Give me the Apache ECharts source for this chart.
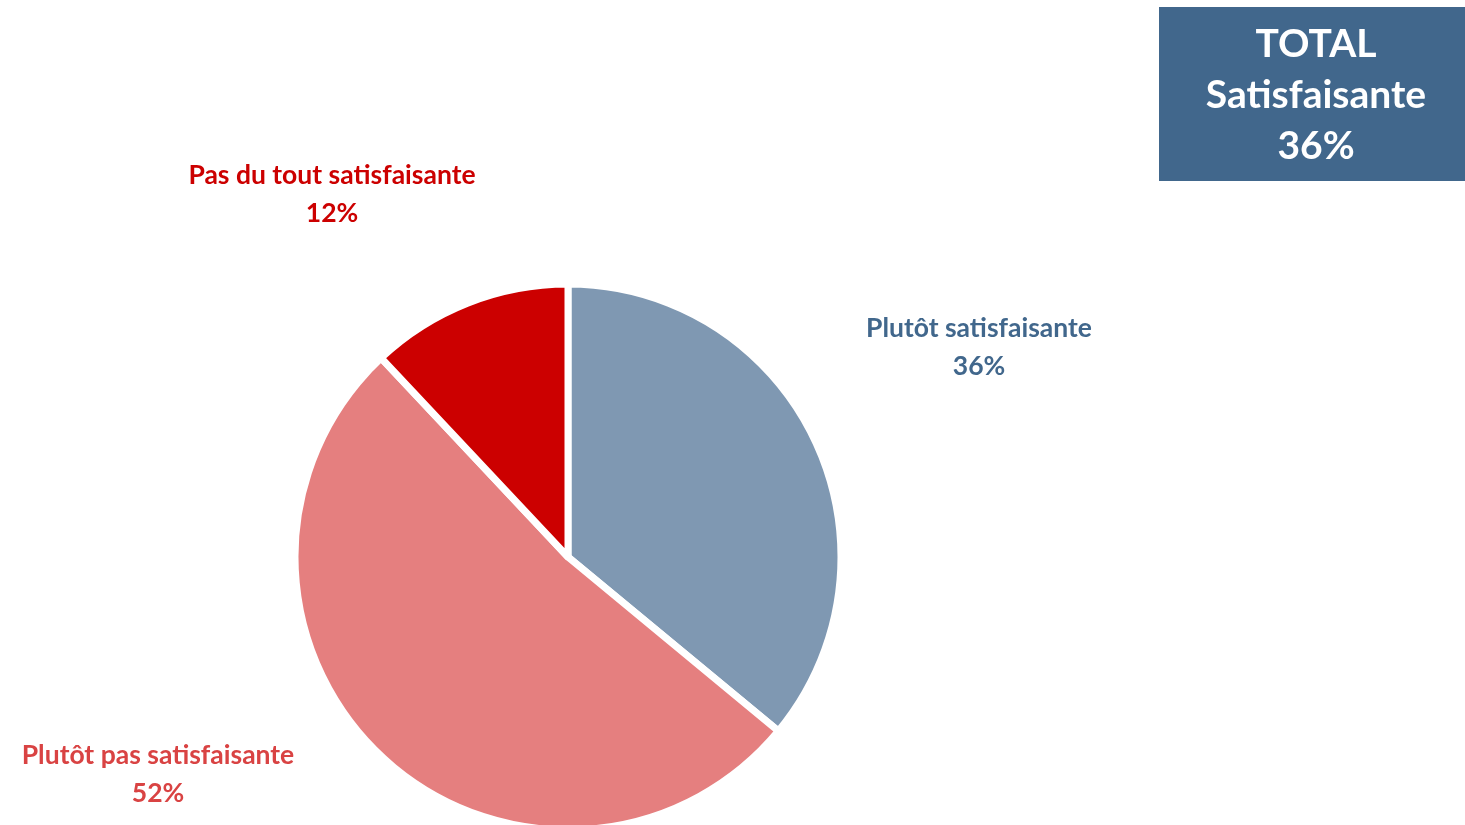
<!DOCTYPE html>
<html>
<head>
<meta charset="utf-8">
<title>Satisfaction</title>
<script src="https://cdn.jsdelivr.net/npm/echarts@6/dist/echarts.min.js"></script>
<style>
  html, body { margin: 0; padding: 0; background: #fff; }
  #chart { width: 1465px; height: 825px; }
</style>
</head>
<body>
<div id="chart"></div>
<script>
// données
const categories = ['Plutôt satisfaisante', 'Plutôt pas satisfaisante', 'Pas du tout satisfaisante']
const values = [36, 52, 12]
const sliceColors = ['#7f98b2', '#e57f7f', '#cc0000']
const labelColors = ['#41678c', '#d94343', '#cc0000']
const totalLabel = 'TOTAL'
const totalName = 'Satisfaisante'

// position des étiquettes (centre du bloc)
const labelPos = [[979, 347], [158, 774], [332, 194]]

const FONT = 'Lato, "Open Sans", sans-serif'

const chart = echarts.init(document.getElementById('chart'))

chart.setOption({
  backgroundColor: '#fff',
  animation: false,
  graphic: [
    {
      type: 'group',
      left: 1159,
      top: 7,
      children: [
        {
          type: 'rect',
          shape: { x: 0, y: 0, width: 306, height: 174 },
          style: { fill: '#41678c' },
        },
        {
          type: 'text',
          x: 157,
          y: 88,
          style: {
            text: `${totalLabel}\n${totalName}\n${values[0]}%`,
            fill: '#fff',
            font: `bold 39px ${FONT}`,
            lineHeight: 51,
            align: 'center',
            verticalAlign: 'middle',
          },
        },
      ],
    },
  ],
  series: [
    {
      type: 'pie',
      center: [568, 557],
      radius: 273,
      startAngle: 90,
      clockwise: true,
      silent: true,
      itemStyle: { borderColor: '#fff', borderWidth: 7 },
      label: {
        show: true,
        position: 'outside',
        formatter: '{b}\n{c}%',
        fontFamily: FONT,
        fontWeight: 'bold',
        fontSize: 26.5,
        lineHeight: 38,
        align: 'center',
      },
      labelLine: { show: false },
      labelLayout: (p) => ({
        x: labelPos[p.dataIndex][0],
        y: labelPos[p.dataIndex][1],
        align: 'center',
        verticalAlign: 'middle',
      }),
      data: categories.map((name, i) => ({
        name,
        value: values[i],
        itemStyle: { color: sliceColors[i] },
        label: { color: labelColors[i] },
      })),
    },
  ],
})
</script>
</body>
</html>
